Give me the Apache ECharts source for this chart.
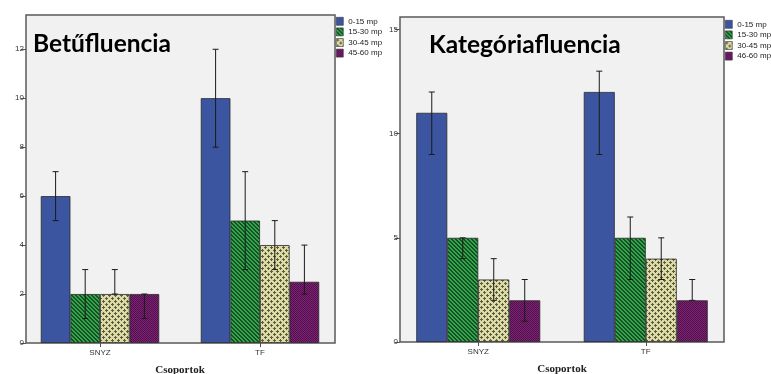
<!DOCTYPE html>
<html><head><meta charset="utf-8">
<script src="https://cdn.jsdelivr.net/npm/echarts@6/dist/echarts.min.js"></script>
<style>html,body{margin:0;padding:0;background:#fff;}#c{width:771px;height:374px;}</style>
</head><body><div id="c"></div>
<script>
const categories = ['SNYZ', 'TF'];
const leftNames = ['0-15 mp', '15-30 mp', '30-45 mp', '45-60 mp'];
const rightNames = ['0-15 mp', '15-30 mp', '30-45 mp', '46-60 mp'];
const leftTitle = 'Betűfluencia';
const rightTitle = 'Kategóriafluencia';
const xName = 'Csoportok';
const leftTicks = [0, 2, 4, 6, 8, 10, 12];
const rightTicks = [0, 5, 10, 15];

// values per series (across categories SNYZ, TF)
const leftValues = [[6, 10], [2, 5], [2, 4], [2, 2.5]];
const leftLow    = [[5, 8],  [1, 3], [2, 3], [1, 2]];
const leftHigh   = [[7, 12], [3, 7], [3, 5], [2, 4]];
const rightValues = [[11, 12], [5, 5], [3, 4], [2, 2]];
const rightLow    = [[9, 9],   [4, 3], [2, 3], [1, 2]];
const rightHigh   = [[12, 13], [5, 6], [4, 5], [3, 3]];

function pattern(w, h, bg, fg, pts) {
  const c = document.createElement('canvas');
  c.width = w; c.height = h;
  const g = c.getContext('2d');
  g.fillStyle = bg; g.fillRect(0, 0, w, h);
  g.fillStyle = fg;
  pts.forEach(p => g.fillRect(p[0], p[1], 1, 1));
  return { image: c, repeat: 'repeat' };
}
const greenPts = [];
for (let i = 0; i < 4; i++) { greenPts.push([i, i]); greenPts.push([(i + 1) % 4, i]); }
const creamPts = [];
[[1, 1], [4, 4]].forEach(([x, y]) => {
  [[0,0],[1,0],[-1,0],[0,1],[0,-1]].forEach(([dx, dy]) => creamPts.push([(x + dx + 6) % 6, (y + dy + 6) % 6]));
});
const fills = [
  '#3B55A1',
  pattern(4, 4, '#2FA84B', '#1A4F26', greenPts),
  pattern(6, 6, '#DDDBA4', '#5B5A45', creamPts),
  pattern(2, 2, '#7D2377', '#521049', [[0, 0], [1, 1]])
];

const BAR_FRAC = 0.185;
function renderErr(params, api) {
  const i = api.value(0), lo = api.value(1), hi = api.value(2), k = api.value(3);
  const band = api.size([1, 0])[0];
  const bw = band * BAR_FRAC;
  const cx = api.coord([i, 0])[0] + (k - 1.5) * bw;
  const y1 = api.coord([i, lo])[1], y2 = api.coord([i, hi])[1];
  const st = { stroke: '#1a1a1a', lineWidth: 1 };
  return { type: 'group', children: [
    { type: 'line', shape: { x1: cx, y1: y1, x2: cx, y2: y2 }, style: st },
    { type: 'line', shape: { x1: cx - 3, y1: y1, x2: cx + 3, y2: y1 }, style: st },
    { type: 'line', shape: { x1: cx - 3, y1: y2, x2: cx + 3, y2: y2 }, style: st }
  ]};
}

const series = [];
function addPanel(gi, names, vals, lows, highs) {
  names.forEach((n, k) => {
    series.push({
      type: 'bar', name: n, xAxisIndex: gi, yAxisIndex: gi,
      data: vals[k], barWidth: (BAR_FRAC * 100) + '%', barGap: '0%',
      itemStyle: { color: fills[k], borderColor: '#2a2a2a', borderWidth: 0.8 },
      emphasis: { disabled: true }, animation: false
    });
    series.push({
      type: 'custom', xAxisIndex: gi, yAxisIndex: gi, z: 10, animation: false,
      renderItem: renderErr, silent: true,
      data: categories.map((c, i) => [i, lows[k][i], highs[k][i], k])
    });
  });
}
addPanel(0, leftNames, leftValues, leftLow, leftHigh);
addPanel(1, rightNames, rightValues, rightLow, rightHigh);

const axisFont = { fontFamily: 'Liberation Sans', fontSize: 8, color: '#333' };
function xAx(gi) {
  return {
    type: 'category', gridIndex: gi, data: categories,
    axisLine: { show: false },
    axisTick: { show: true, alignWithLabel: true, length: 4, lineStyle: { color: '#555' } },
    axisLabel: Object.assign({ margin: 6 }, axisFont),
    name: xName, nameLocation: 'middle', nameGap: 22,
    nameTextStyle: { fontFamily: 'Liberation Serif', fontWeight: 'bold', fontSize: 11, color: '#222' }
  };
}
function yAx(gi, max, interval, ticks, off) {
  return {
    type: 'value', gridIndex: gi, min: 0, max: max, interval: interval, offset: off,
    axisLine: { show: false },
    axisTick: { show: true, length: 5, lineStyle: { color: '#555' }, customValues: ticks },
    axisLabel: Object.assign({ margin: 2, customValues: ticks }, axisFont),
    splitLine: { show: false }
  };
}

const legendText = { fontFamily: 'Liberation Sans', fontSize: 8, color: '#222', overflow: 'none' };
const chart = echarts.init(document.getElementById('c'), null, { renderer: 'canvas' });
chart.setOption({
  animation: false,
  backgroundColor: '#fff',
  grid: [
    { left: 20, top: 15, width: 320, height: 328, outerBoundsMode: 'none', containLabel: false },
    { left: 394.5, top: 17, width: 335, height: 325, outerBoundsMode: 'none', containLabel: false }
  ],
  xAxis: [xAx(0), xAx(1)],
  yAxis: [yAx(0, 13.4, 2, leftTicks, -6), yAx(1, 15.6, 5, rightTicks, -5.5)],
  legend: [
    { data: leftNames, orient: 'vertical', left: 336, top: 17, padding: 0,
      itemWidth: 7, itemHeight: 8, itemGap: 2, icon: 'rect',
      textStyle: legendText,
      itemStyle: { borderColor: '#333', borderWidth: 0.6 }, selectedMode: false },
    { data: rightNames, orient: 'vertical', left: 725, top: 20, padding: 0,
      itemWidth: 7, itemHeight: 8, itemGap: 2, icon: 'rect',
      textStyle: legendText,
      itemStyle: { borderColor: '#333', borderWidth: 0.6 }, selectedMode: false }
  ],
  graphic: [
    { type: 'rect', z: -1, shape: { x: 26, y: 15, width: 309, height: 328 },
      style: { fill: '#F0F1F0', stroke: '#5a5a5a', lineWidth: 1.5 } },
    { type: 'rect', z: -1, shape: { x: 400, y: 17, width: 324, height: 325 },
      style: { fill: '#F0F1F0', stroke: '#5a5a5a', lineWidth: 1.5 } },
    { type: 'text', z: 20, style: { x: 33, y: 44, text: leftTitle, font: 'bold 24.5px Lato', fill: '#000', verticalAlign: 'middle' } },
    { type: 'text', z: 20, style: { x: 429, y: 45, text: rightTitle, font: 'bold 24.5px Lato', fill: '#000', verticalAlign: 'middle' } }
  ],
  series: series
});
</script></body></html>
